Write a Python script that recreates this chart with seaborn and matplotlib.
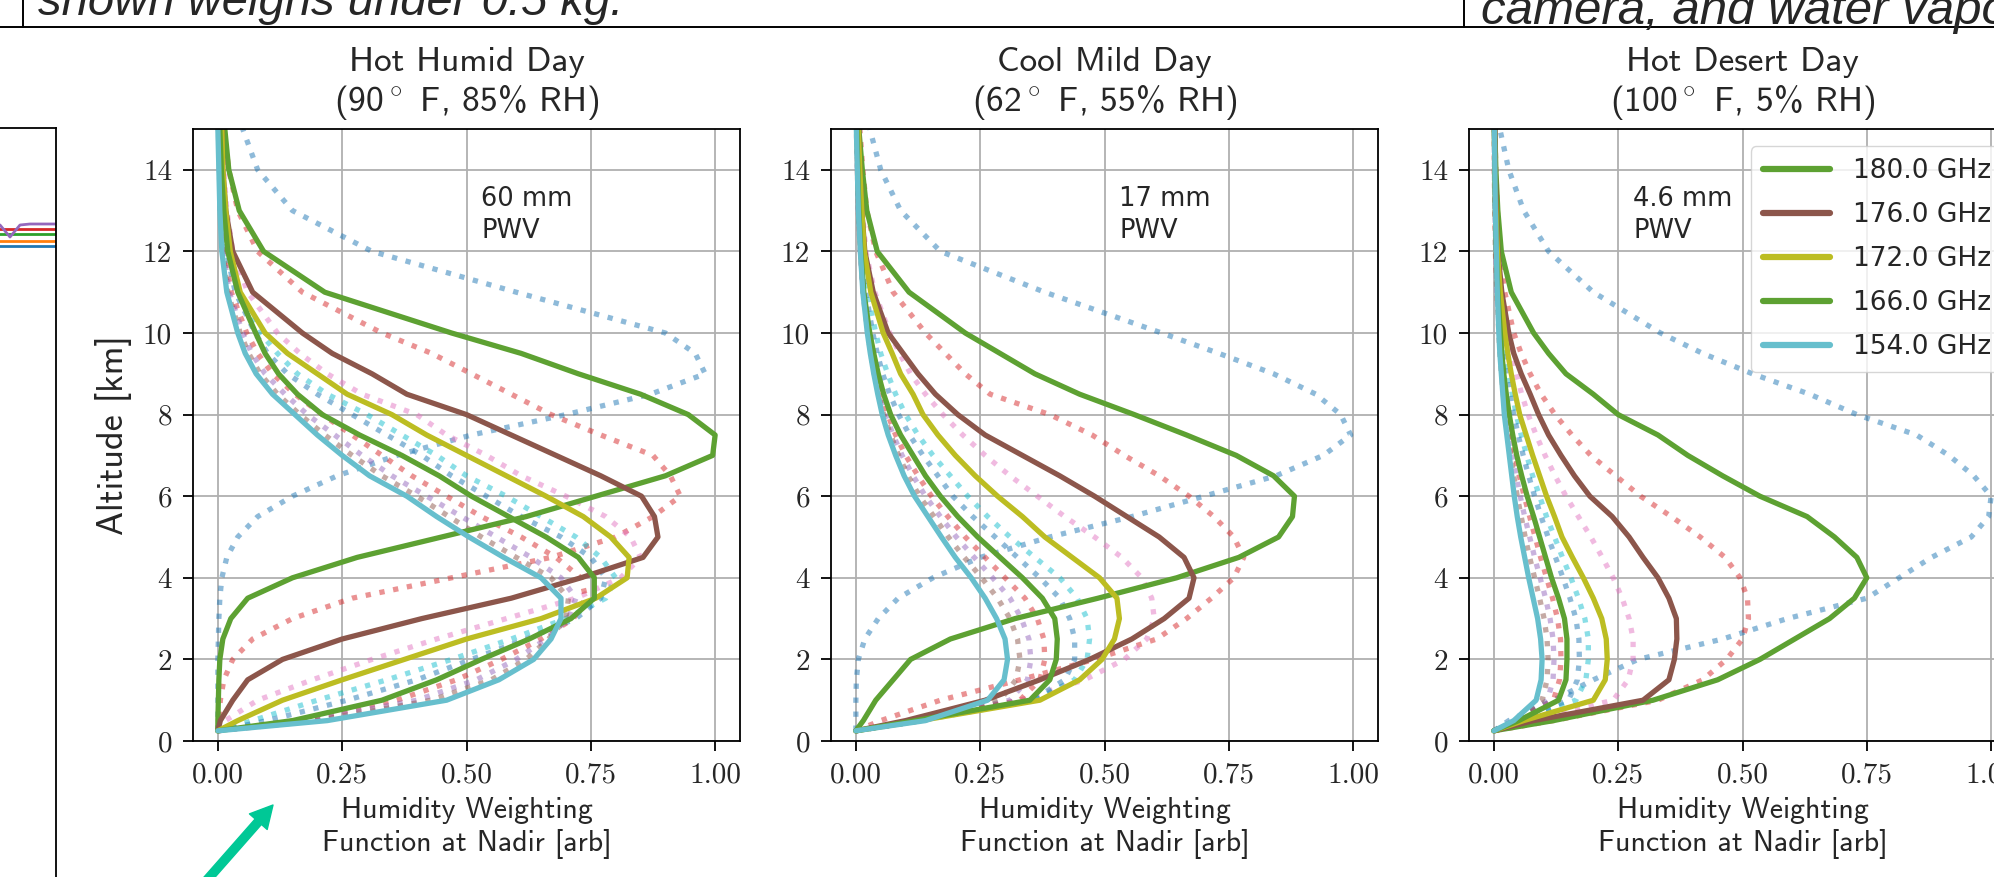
import matplotlib
matplotlib.use("Agg")
import matplotlib.pyplot as plt
import seaborn as sns
import pandas as pd
from matplotlib.lines import Line2D
from matplotlib.patches import FancyArrowPatch, ArrowStyle

# ---------------- data ----------------
ALT = [0.25, 0.5, 1.0, 1.5, 2.0, 2.5, 3.0, 3.5, 4.0, 4.5, 5.0, 5.5, 6.0, 6.5,
       7.0, 7.5, 8.0, 8.5, 9.0, 9.5, 10.0, 11.0, 12.0, 13.0, 14.0, 15.0]

PANEL_TITLES = ["Hot Humid Day\n(90$^\\circ$ F, 85% RH)",
                "Cool Mild Day\n(62$^\\circ$ F, 55% RH)",
                "Hot Desert Day\n(100$^\\circ$ F, 5% RH)"]
PWV_LABELS = ["60 mm\nPWV", "17 mm\nPWV", "4.6 mm\nPWV"]
PWV_XPOS = [0.53, 0.53, 0.28]

SOLID_LABELS = ["180.0 GHz", "176.0 GHz", "172.0 GHz", "166.0 GHz", "154.0 GHz"]
SOLID_COLORS = ["#5da132", "#8c564b", "#bcbd22", "#5da132", "#67bfcd"]
DOTTED_COLORS = ["#1f77b4", "#d62728", "#e377c2", "#17becf", "#1f77b4",
                 "#d62728", "#9467bd", "#8c564b"]

XTICKS = [0.0, 0.25, 0.5, 0.75, 1.0]
XTICK_LABELS = ["0.00", "0.25", "0.50", "0.75", "1.00"]
YTICKS = [0, 2, 4, 6, 8, 10, 12, 14]
YTICK_LABELS = ["0", "2", "4", "6", "8", "10", "12", "14"]

# Hot humid day -- solid channels
H180 = [0, 0.0, 0.001, 0.002, 0.004, 0.01, 0.026, 0.06, 0.15, 0.28, 0.45, 0.62, 0.76, 0.90, 0.995, 1.0, 0.946, 0.85, 0.725, 0.61, 0.47, 0.215, 0.092, 0.043, 0.022, 0.014]
H176 = [0, 0.005, 0.03, 0.06, 0.13, 0.25, 0.41, 0.59, 0.73, 0.855, 0.885, 0.878, 0.852, 0.77, 0.68, 0.59, 0.50, 0.38, 0.31, 0.23, 0.17, 0.07, 0.03, 0.016, 0.01, 0.008]
H172 = [0, 0.04, 0.13, 0.25, 0.375, 0.50, 0.65, 0.76, 0.823, 0.827, 0.79, 0.735, 0.66, 0.58, 0.50, 0.42, 0.35, 0.26, 0.20, 0.14, 0.095, 0.045, 0.025, 0.016, 0.01, 0.008]
H166 = [0, 0.15, 0.33, 0.44, 0.53, 0.626, 0.71, 0.757, 0.757, 0.725, 0.66, 0.585, 0.51, 0.445, 0.37, 0.285, 0.21, 0.16, 0.122, 0.095, 0.076, 0.04, 0.02, 0.012, 0.007, 0.004]
H154 = [0, 0.22, 0.46, 0.565, 0.635, 0.67, 0.69, 0.69, 0.65, 0.575, 0.505, 0.44, 0.38, 0.305, 0.25, 0.20, 0.155, 0.11, 0.077, 0.055, 0.04, 0.018, 0.008, 0.004, 0.002, 0.0]
# Hot humid day -- dotted channels
H183 = [0, 0, 0, 0, 0, 0.001, 0.002, 0.004, 0.008, 0.018, 0.04, 0.08, 0.15, 0.24, 0.36, 0.51, 0.70, 0.87, 0.98, 0.96, 0.90, 0.60, 0.31, 0.15, 0.08, 0.05]
H178 = [0, 0.002, 0.005, 0.012, 0.03, 0.07, 0.15, 0.27, 0.47, 0.67, 0.80, 0.875, 0.93, 0.91, 0.875, 0.77, 0.67, 0.59, 0.51, 0.43, 0.33, 0.17, 0.08, 0.04, 0.022, 0.012]
H174 = [0, 0.015, 0.08, 0.19, 0.31, 0.44, 0.58, 0.72, 0.81, 0.85, 0.83, 0.78, 0.70, 0.61, 0.54, 0.46, 0.40, 0.29, 0.22, 0.165, 0.12, 0.06, 0.03, 0.018, 0.012, 0.008]
H170 = [0, 0.07, 0.20, 0.34, 0.47, 0.59, 0.70, 0.78, 0.80, 0.77, 0.72, 0.65, 0.58, 0.50, 0.44, 0.37, 0.30, 0.22, 0.16, 0.12, 0.085, 0.04, 0.02, 0.012, 0.008, 0.005]
H168 = [0, 0.10, 0.26, 0.40, 0.51, 0.62, 0.72, 0.77, 0.78, 0.75, 0.69, 0.61, 0.54, 0.47, 0.41, 0.34, 0.27, 0.20, 0.14, 0.10, 0.075, 0.035, 0.017, 0.01, 0.006, 0.004]
H164 = [0, 0.16, 0.36, 0.48, 0.57, 0.65, 0.715, 0.74, 0.73, 0.68, 0.61, 0.53, 0.46, 0.39, 0.33, 0.27, 0.21, 0.155, 0.11, 0.08, 0.058, 0.027, 0.013, 0.007, 0.004, 0.002]
H160 = [0, 0.18, 0.40, 0.52, 0.60, 0.66, 0.705, 0.72, 0.69, 0.63, 0.56, 0.49, 0.42, 0.35, 0.29, 0.235, 0.18, 0.135, 0.095, 0.068, 0.05, 0.023, 0.011, 0.006, 0.003, 0.001]
H157 = [0, 0.20, 0.43, 0.55, 0.62, 0.665, 0.70, 0.705, 0.67, 0.60, 0.53, 0.465, 0.40, 0.33, 0.27, 0.215, 0.165, 0.12, 0.085, 0.062, 0.045, 0.02, 0.01, 0.005, 0.003, 0.001]

# Cool mild day -- solid channels
M180 = [0, 0.015, 0.04, 0.075, 0.11, 0.19, 0.32, 0.487, 0.645, 0.77, 0.85, 0.878, 0.882, 0.84, 0.765, 0.665, 0.56, 0.45, 0.36, 0.29, 0.22, 0.107, 0.043, 0.022, 0.013, 0.006]
M176 = [0, 0.10, 0.26, 0.37, 0.47, 0.555, 0.62, 0.67, 0.68, 0.66, 0.61, 0.545, 0.48, 0.41, 0.335, 0.26, 0.205, 0.16, 0.125, 0.095, 0.065, 0.035, 0.018, 0.012, 0.008, 0.005]
M172 = [0, 0.13, 0.37, 0.45, 0.495, 0.52, 0.53, 0.525, 0.49, 0.435, 0.38, 0.335, 0.285, 0.24, 0.20, 0.165, 0.135, 0.115, 0.09, 0.073, 0.055, 0.03, 0.017, 0.012, 0.008, 0.005]
M166 = [0, 0.12, 0.35, 0.39, 0.403, 0.405, 0.40, 0.375, 0.335, 0.29, 0.245, 0.205, 0.17, 0.14, 0.115, 0.09, 0.07, 0.056, 0.045, 0.036, 0.028, 0.016, 0.01, 0.006, 0.004, 0.002]
M154 = [0, 0.14, 0.265, 0.298, 0.305, 0.30, 0.283, 0.26, 0.232, 0.20, 0.172, 0.145, 0.118, 0.097, 0.08, 0.065, 0.053, 0.044, 0.036, 0.029, 0.023, 0.014, 0.009, 0.005, 0.003, 0.001]
# Cool mild day -- dotted channels
M183 = [0, 0, 0, 0.001, 0.005, 0.018, 0.045, 0.085, 0.155, 0.25, 0.39, 0.555, 0.70, 0.845, 0.94, 0.995, 0.975, 0.925, 0.84, 0.73, 0.615, 0.38, 0.17, 0.09, 0.05, 0.028]
M178 = [0, 0.05, 0.17, 0.33, 0.48, 0.605, 0.665, 0.715, 0.76, 0.78, 0.76, 0.72, 0.67, 0.61, 0.54, 0.475, 0.39, 0.27, 0.22, 0.18, 0.14, 0.075, 0.04, 0.022, 0.014, 0.008]
M174 = [0, 0.12, 0.33, 0.46, 0.54, 0.585, 0.60, 0.595, 0.575, 0.535, 0.48, 0.42, 0.365, 0.31, 0.26, 0.215, 0.175, 0.14, 0.11, 0.088, 0.068, 0.038, 0.02, 0.013, 0.008, 0.005]
M170 = [0, 0.13, 0.36, 0.44, 0.465, 0.47, 0.465, 0.445, 0.41, 0.36, 0.31, 0.265, 0.225, 0.19, 0.155, 0.125, 0.10, 0.08, 0.064, 0.05, 0.04, 0.023, 0.013, 0.008, 0.005, 0.003]
M168 = [0, 0.125, 0.355, 0.42, 0.44, 0.44, 0.43, 0.41, 0.37, 0.325, 0.28, 0.235, 0.195, 0.165, 0.135, 0.108, 0.086, 0.068, 0.054, 0.043, 0.034, 0.02, 0.011, 0.007, 0.004, 0.002]
M164 = [0, 0.12, 0.33, 0.37, 0.38, 0.378, 0.365, 0.34, 0.30, 0.26, 0.22, 0.185, 0.152, 0.125, 0.10, 0.08, 0.064, 0.051, 0.041, 0.033, 0.026, 0.015, 0.009, 0.005, 0.003, 0.002]
M160 = [0, 0.13, 0.31, 0.345, 0.352, 0.348, 0.333, 0.31, 0.275, 0.238, 0.202, 0.17, 0.14, 0.115, 0.093, 0.075, 0.06, 0.048, 0.039, 0.031, 0.025, 0.015, 0.009, 0.005, 0.003, 0.001]
M157 = [0, 0.135, 0.29, 0.322, 0.33, 0.325, 0.31, 0.285, 0.253, 0.218, 0.186, 0.157, 0.128, 0.105, 0.086, 0.07, 0.056, 0.046, 0.037, 0.03, 0.024, 0.014, 0.009, 0.005, 0.003, 0.001]

# Hot desert day -- solid channels
D180 = [0, 0.12, 0.32, 0.45, 0.535, 0.605, 0.675, 0.725, 0.75, 0.73, 0.685, 0.63, 0.535, 0.46, 0.39, 0.33, 0.25, 0.20, 0.145, 0.11, 0.08, 0.035, 0.015, 0.008, 0.004, 0.002]
D176 = [0, 0.08, 0.30, 0.352, 0.363, 0.368, 0.367, 0.352, 0.33, 0.30, 0.272, 0.238, 0.193, 0.162, 0.135, 0.11, 0.09, 0.073, 0.055, 0.04, 0.03, 0.016, 0.008, 0.005, 0.003, 0.002]
D172 = [0, 0.06, 0.20, 0.224, 0.228, 0.226, 0.217, 0.20, 0.18, 0.158, 0.137, 0.122, 0.106, 0.092, 0.078, 0.065, 0.052, 0.043, 0.035, 0.028, 0.022, 0.013, 0.007, 0.004, 0.002, 0.001]
D166 = [0, 0.05, 0.13, 0.145, 0.147, 0.147, 0.142, 0.13, 0.116, 0.104, 0.092, 0.08, 0.067, 0.056, 0.046, 0.038, 0.031, 0.025, 0.02, 0.016, 0.013, 0.008, 0.005, 0.003, 0.002, 0.001]
D154 = [0, 0.04, 0.085, 0.095, 0.097, 0.094, 0.088, 0.079, 0.07, 0.062, 0.054, 0.047, 0.041, 0.036, 0.031, 0.026, 0.021, 0.018, 0.015, 0.012, 0.01, 0.007, 0.005, 0.003, 0.002, 0.001]
# Hot desert day -- dotted channels
D183 = [0, 0.03, 0.12, 0.20, 0.29, 0.46, 0.59, 0.75, 0.815, 0.88, 0.96, 0.995, 1.0, 0.965, 0.915, 0.85, 0.73, 0.635, 0.52, 0.42, 0.335, 0.20, 0.11, 0.06, 0.03, 0.012]
D178 = [0, 0.12, 0.33, 0.42, 0.468, 0.50, 0.512, 0.51, 0.495, 0.465, 0.415, 0.357, 0.295, 0.245, 0.195, 0.157, 0.123, 0.095, 0.073, 0.055, 0.04, 0.022, 0.012, 0.007, 0.004, 0.002]
D174 = [0, 0.07, 0.24, 0.27, 0.28, 0.28, 0.272, 0.258, 0.24, 0.218, 0.195, 0.17, 0.145, 0.123, 0.103, 0.085, 0.069, 0.056, 0.045, 0.036, 0.028, 0.016, 0.009, 0.005, 0.003, 0.002]
D170 = [0, 0.05, 0.165, 0.185, 0.19, 0.19, 0.183, 0.17, 0.155, 0.138, 0.122, 0.106, 0.092, 0.078, 0.066, 0.055, 0.045, 0.037, 0.03, 0.024, 0.019, 0.011, 0.006, 0.004, 0.002, 0.001]
D168 = [0, 0.045, 0.15, 0.168, 0.172, 0.171, 0.165, 0.153, 0.139, 0.124, 0.109, 0.095, 0.082, 0.07, 0.059, 0.049, 0.04, 0.033, 0.027, 0.022, 0.017, 0.01, 0.006, 0.003, 0.002, 0.001]
D164 = [0, 0.045, 0.12, 0.132, 0.135, 0.134, 0.128, 0.118, 0.106, 0.094, 0.083, 0.072, 0.061, 0.051, 0.043, 0.035, 0.029, 0.024, 0.019, 0.015, 0.012, 0.007, 0.004, 0.002, 0.001, 0.001]
D160 = [0, 0.043, 0.108, 0.119, 0.121, 0.119, 0.113, 0.104, 0.093, 0.082, 0.072, 0.062, 0.053, 0.045, 0.038, 0.031, 0.025, 0.021, 0.017, 0.013, 0.011, 0.006, 0.004, 0.002, 0.001, 0.001]
D157 = [0, 0.042, 0.097, 0.107, 0.109, 0.107, 0.101, 0.092, 0.082, 0.072, 0.063, 0.055, 0.047, 0.04, 0.034, 0.028, 0.023, 0.019, 0.015, 0.012, 0.01, 0.006, 0.003, 0.002, 0.001, 0.001]

PANEL_SOLID = [[H180, H176, H172, H166, H154],
               [M180, M176, M172, M166, M154],
               [D180, D176, D172, D166, D154]]
PANEL_DOTTED = [[H183, H178, H174, H170, H168, H164, H160, H157],
                [M183, M178, M174, M170, M168, M164, M160, M157],
                [D183, D178, D174, D170, D168, D164, D160, D157]]

# fragment of the neighbouring figure on the left (partially visible)
LEFT_X = [-600, -56, -46, -36, -26, 0]
LEFT_PURPLE = [97, 97, 109, 97, 96, 96]
LEFT_RED = [101, 101, 101, 101, 101, 101]
LEFT_GREEN = [106, 106, 106, 106, 106, 106]
LEFT_ORANGE = [113, 113, 113, 113, 113, 113]
LEFT_BLUE = [118, 118, 118, 118, 118, 118]

# ---------------- style ----------------
sns.set_style("ticks")
plt.rcParams["font.family"] = ["DejaVu Sans"]
plt.rcParams["mathtext.fontset"] = "cm"
plt.rcParams["axes.unicode_minus"] = False

W, H = 1994, 877
fig = plt.figure(figsize=(W / 100, H / 100), dpi=100)

LEFTS = [193, 831, 1469]
AX_W, AX_TOP, AX_BOT = 547, 129, 741
FS_TICK = 21
FS_TITLE = 25.5
FS_XLAB = 21.5
FS_YLAB = 26
LW = 3.8

axes = []
for i in range(3):
    ax = fig.add_axes([LEFTS[i] / W, (H - AX_BOT) / H, AX_W / W, (AX_BOT - AX_TOP) / H])
    axes.append(ax)
    for vals, col in zip(PANEL_DOTTED[i], DOTTED_COLORS):
        df = pd.DataFrame({"w": vals, "alt": ALT})
        sns.lineplot(data=df, x="w", y="alt", ax=ax, color=col, alpha=0.5,
                     linewidth=LW, linestyle=":", sort=False, estimator=None,
                     orient="y")
    for vals, col, lab in zip(PANEL_SOLID[i], SOLID_COLORS, SOLID_LABELS):
        df = pd.DataFrame({"w": vals, "alt": ALT})
        sns.lineplot(data=df, x="w", y="alt", ax=ax, color=col,
                     linewidth=LW, sort=False, estimator=None, orient="y")
    ax.set_xlim(-0.05, 1.05)
    ax.set_ylim(0, 15)
    ax.set_xticks(XTICKS)
    ax.set_xticklabels(XTICK_LABELS, fontfamily="cmr10", fontsize=FS_TICK)
    ax.set_yticks(YTICKS)
    ax.set_yticklabels(YTICK_LABELS, fontfamily="cmr10", fontsize=FS_TICK)
    ax.tick_params(direction="out", length=7, width=1.3, pad=8, color="black")
    ax.grid(True, color="#b0b0b0", linewidth=1.3)
    ax.set_axisbelow(True)
    for sp in ax.spines.values():
        sp.set_visible(True)
        sp.set_color("black")
        sp.set_linewidth(1.3)
    ax.set_title(PANEL_TITLES[i], fontfamily="cmss10", fontsize=FS_TITLE, pad=13,
                 linespacing=1.16)
    ax.set_xlabel("Humidity Weighting\nFunction at Nadir [arb]",
                  fontfamily="cmss10", fontsize=FS_XLAB, labelpad=6, linespacing=1.25)
    if i == 0:
        ax.set_ylabel("Altitude [km]", fontfamily="cmss10", fontsize=FS_YLAB, labelpad=8)
    else:
        ax.set_ylabel("")
    ax.text(PWV_XPOS[i], 13.6, PWV_LABELS[i], fontsize=18.5, va="top", ha="left",
            linespacing=1.3)

handles = [Line2D([0], [0], color=c, lw=4.5) for c in SOLID_COLORS]
leg = axes[2].legend(handles, SOLID_LABELS, loc="upper right",
                     bbox_to_anchor=(1.0, 0.993), fontsize=19,
                     handlelength=2.55, handletextpad=0.85, borderpad=0.45,
                     labelspacing=0.68, framealpha=0.8, edgecolor="#cccccc")

# ---------------- surrounding slide fragments ----------------
ax0 = fig.add_axes([(56 - 600) / W, -0.1, 600 / W, (877 - 128) / H + 0.1])
ax0.set_xlim(-600, 0)
ax0.set_ylim((877 - 128) + 0.1 * H, 0)
for yv, col in zip([LEFT_BLUE, LEFT_ORANGE, LEFT_GREEN, LEFT_RED, LEFT_PURPLE],
                   ["#1f77b4", "#ff7f0e", "#2ca02c", "#d62728", "#9467bd"]):
    ax0.plot(LEFT_X, yv, color=col, lw=2)
ax0.set_xticks([])
ax0.set_yticks([])
for sp in ax0.spines.values():
    sp.set_color("black")
    sp.set_linewidth(1.3)

fig.add_artist(Line2D([0, 1], [1 - 27 / H] * 2, transform=fig.transFigure,
                      color="black", lw=1.4))
fig.add_artist(Line2D([23 / W] * 2, [1 - 27 / H, 1], transform=fig.transFigure,
                      color="black", lw=1.4))
fig.add_artist(Line2D([1464 / W] * 2, [1 - 27 / H, 1], transform=fig.transFigure,
                      color="black", lw=1.4))
fig.text(38 / W, 1 - 15 / H, "shown weighs under 0.5 kg.", fontsize=34,
         style="italic", family="Liberation Sans", va="baseline", ha="left")
fig.text(1481 / W, 1 - 24 / H, "camera, and water vapor", fontsize=35.5,
         style="italic", family="Liberation Sans", va="baseline", ha="left")

arrow = FancyArrowPatch((185 / W, 1 - 905 / H), (273 / W, 1 - 805 / H),
                        transform=fig.transFigure,
                        arrowstyle=ArrowStyle.Simple(head_length=1.6, head_width=1.7,
                                                     tail_width=0.6),
                        mutation_scale=10, color="#00c896", shrinkA=0, shrinkB=0)
fig.add_artist(arrow)

fig.savefig("out.png", dpi=100)
